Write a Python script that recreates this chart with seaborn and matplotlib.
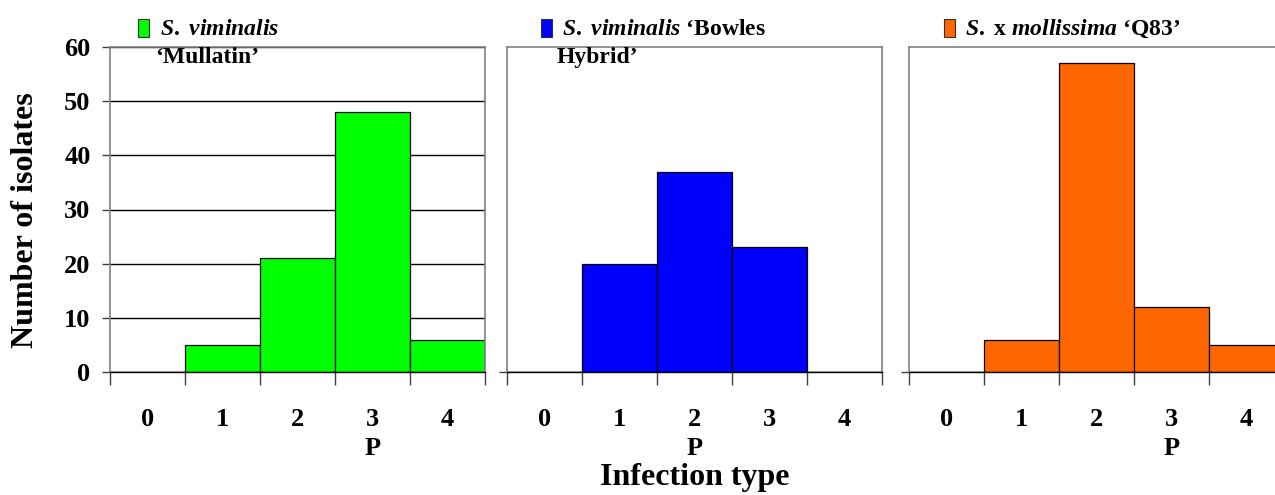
import matplotlib
matplotlib.use("Agg")
import matplotlib.pyplot as plt
import matplotlib.patches as mpatches
import matplotlib.ticker as mticker
import seaborn as sns

# Infection-type counts for three willow clones
infection_types = ["0", "1", "2", "3", "4"]
mullatin = [0, 5, 21, 48, 6]
bowles_hybrid = [0, 20, 37, 23, 0]
q83 = [0, 6, 57, 12, 5]
y_ticks = [0, 10, 20, 30, 40, 50, 60]
# the infection type at which "P" is marked under each panel
p_marks = ["3", "2", "3"]

panel_colors = ["#00FF00", "#0000FF", "#FF6600"]
panel_titles = [
    (r"$\mathit{S.}$ $\mathit{viminalis}$", "‘Mullatin’"),
    (r"$\mathit{S.}$ $\mathit{viminalis}$ ‘Bowles", "Hybrid’"),
    (r"$\mathit{S.}$ x $\mathit{mollissima}$ ‘Q83’", None),
]

sns.set_style("white")
plt.rcParams["font.family"] = ["Liberation Serif", "DejaVu Serif"]
plt.rcParams["font.weight"] = "bold"
plt.rcParams["text.color"] = "black"
plt.rcParams["xtick.color"] = "black"
plt.rcParams["ytick.color"] = "black"
plt.rcParams["mathtext.fontset"] = "custom"
plt.rcParams["mathtext.it"] = "Liberation Serif:italic:bold"
plt.rcParams["mathtext.rm"] = "Liberation Serif:bold"
plt.rcParams["mathtext.bf"] = "Liberation Serif:bold"

W, H = 1275, 495
fig = plt.figure(figsize=(W / 100, H / 100), dpi=100)
fig.patch.set_facecolor("white")


def fx(px):
    return px / W


def fy(py):
    return 1 - py / H


axes_left_px = [110, 507, 909]
ax_w_px, ax_top_px, ax_bot_px = 375, 47, 372
series = [mullatin, bowles_hybrid, q83]
square_px = [138, 541, 944]
text_px = [(160, 155), (562, 557), (965, 960)]

for i, (vals, color) in enumerate(zip(series, panel_colors)):
    ax = fig.add_axes([fx(axes_left_px[i]), fy(ax_bot_px),
                       fx(ax_w_px), (ax_bot_px - ax_top_px) / H])
    sns.barplot(x=infection_types, y=vals, order=infection_types, color=color,
                saturation=1, width=1.0, edgecolor="black", linewidth=0.9, ax=ax)
    ax.set_xlim(-0.5, 4.5)
    ax.set_ylim(0, 60)
    ax.set_axisbelow(True)
    ax.yaxis.grid(True, color="black", linewidth=1.0)
    ax.xaxis.grid(False)
    for side in ["left", "top", "right"]:
        ax.spines[side].set_color("#808080")
        ax.spines[side].set_linewidth(1.2)
    ax.spines["bottom"].set_color("black")
    ax.spines["bottom"].set_linewidth(1.0)

    # category labels centred in each bin, tick marks on bin boundaries
    labels = [t + "\nP" if t == p_marks[i] else t for t in infection_types]
    ax.set_xticks(range(len(infection_types)))
    ax.set_xticklabels(labels, fontsize=19, fontweight="bold", linespacing=1.3,
                       va="top", color="black")
    ax.tick_params(axis="x", which="major", length=0, pad=26, bottom=True)
    ax.xaxis.set_minor_locator(mticker.FixedLocator([k - 0.5 for k in range(6)]))
    ax.tick_params(axis="x", which="minor", direction="out", length=9,
                   width=1.0, color="#404040", bottom=True)
    ax.set_xlabel("")
    ax.set_ylabel("")

    if i == 0:
        ax.set_yticks(y_ticks)
        ax.set_yticklabels([str(v) for v in y_ticks], fontsize=19,
                           fontweight="bold", color="black")
        ax.tick_params(axis="y", direction="out", length=6, width=1.0,
                       color="#404040", pad=8, left=True)
    else:
        ax.set_yticks([0])
        ax.set_yticklabels([""])
        ax.tick_params(axis="y", direction="out", length=6, width=1.0,
                       color="#404040", left=True)

    # legend key and clone name above each panel
    fig.patches.append(mpatches.Rectangle(
        (fx(square_px[i]), fy(37)), fx(11), 18 / H, transform=fig.transFigure,
        facecolor=color, edgecolor="#303030", linewidth=0.8))
    line1, line2 = panel_titles[i]
    fig.text(fx(text_px[i][0]), fy(35), line1, fontsize=17, fontweight="bold",
             ha="left", va="baseline")
    if line2:
        fig.text(fx(text_px[i][1]), fy(63), line2, fontsize=17,
                 fontweight="bold", ha="left", va="baseline")

fig.text(fx(695), fy(477), "Infection type", fontsize=23, fontweight="bold",
         ha="center", va="center")
fig.text(fx(26), fy(220), "Number of isolates", fontsize=23, fontweight="bold",
         ha="center", va="center", rotation=90)

fig.savefig("out.png", dpi=100, facecolor="white")
